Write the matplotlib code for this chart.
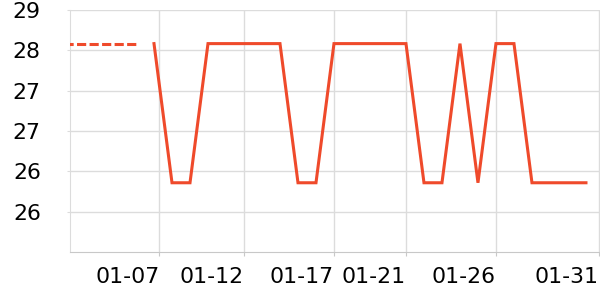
import numpy as np
import matplotlib
matplotlib.use('Agg')
import matplotlib.pyplot as plt
from matplotlib.ticker import FuncFormatter

# dados (dia de janeiro -> valor)
dias = list(range(7, 32))
valores = [28.5, 26.43, 26.43, 28.5, 28.5, 28.5, 28.5, 28.5, 26.43, 26.43,
           28.5, 28.5, 28.5, 28.5, 28.5, 26.43, 26.43, 28.5, 26.43, 28.5,
           28.5, 26.43, 26.43, 26.43, 26.43]

# trecho tracejado no inicio
dias_tracejado = [2, 3, 4, 5, 6]
valores_tracejado = [28.5, 28.5, 28.5, 28.5, 28.5]

ticks_x = [7.3, 12, 17, 21, 26, 31.7]
rotulos_x = ['01-07', '01-12', '01-17', '01-21', '01-26', '01-31']
ticks_y = [29.0, 28.4, 27.8, 27.2, 26.6, 26.0]

cor = '#ef4a2b'
cinza_grade = '#dcdcdc'
cinza_eixo = '#c8c8c8'

plt.rcParams['font.family'] = 'DejaVu Sans'
fig = plt.figure(figsize=(6, 3), dpi=100)
ax = fig.add_axes([70/600, 48/300, 530/600, 242/300])

ax.plot(dias, valores, color=cor, lw=2.2, solid_joinstyle='miter', zorder=3)
ax.plot(dias_tracejado, valores_tracejado, color=cor, lw=2.2,
        dashes=(3, 1.1), zorder=3)

ax.set_xlim(2.333, 31.78)
ax.set_ylim(25.4, 29.0)

ax.set_xticks(ticks_x)
ax.set_xticklabels(rotulos_x, ha='right')
ax.set_yticks(ticks_y)
ax.yaxis.set_major_formatter(FuncFormatter(lambda v, p: str(int(v + 1e-9))))

ax.grid(True, color=cinza_grade, lw=1)
ax.set_axisbelow(True)
for lado in ['top', 'right']:
    ax.spines[lado].set_visible(False)
ax.spines['left'].set_color(cinza_grade)
ax.spines['bottom'].set_color(cinza_eixo)

ax.tick_params(axis='x', length=3, color=cinza_eixo, pad=8, labelsize=15.8)
ax.tick_params(axis='y', length=2, color=cinza_grade, pad=19, labelsize=15.8)

fig.savefig('out.png', dpi=100)
